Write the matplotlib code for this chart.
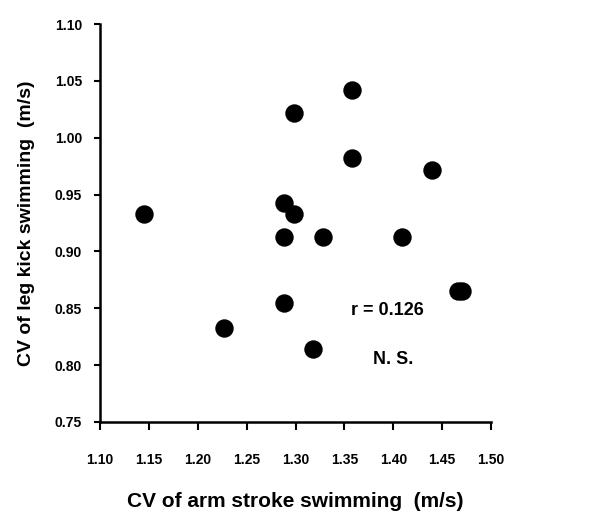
import matplotlib.pyplot as plt

plt.rcParams['font.family'] = ['Liberation Sans', 'DejaVu Sans']

# CV values per swimmer (m/s)
arm_cv = [1.145, 1.227, 1.288, 1.298, 1.288, 1.328, 1.409, 1.288, 1.318,
          1.298, 1.358, 1.358, 1.440, 1.466, 1.470]
leg_cv = [0.933, 0.833, 0.943, 0.933, 0.913, 0.913, 0.913, 0.855, 0.814,
          1.022, 1.042, 0.982, 0.972, 0.865, 0.865]

xticks = [1.10, 1.15, 1.20, 1.25, 1.30, 1.35, 1.40, 1.45, 1.50]
yticks = [0.75, 0.80, 0.85, 0.90, 0.95, 1.00, 1.05, 1.10]

fig = plt.figure(figsize=(6.11, 5.22), dpi=100)
ax = fig.add_axes([0.1637, 0.1916, 0.64, 0.7624])

ax.scatter(arm_cv, leg_cv, s=150, color='black', zorder=3)

ax.set_xlim(1.10, 1.50)
ax.set_ylim(0.75, 1.10)
ax.set_xticks(xticks)
ax.set_yticks(yticks)
ax.set_xticklabels([f'{v:.2f}' for v in xticks], fontsize=10, fontweight='bold')
ax.set_yticklabels([f'{v:.2f}' for v in yticks], fontsize=10, fontweight='bold')
ax.tick_params(axis='x', direction='out', length=6, width=1.5, pad=16)
ax.tick_params(axis='y', direction='out', length=4, width=1.5, pad=9)

for side in ['top', 'right']:
    ax.spines[side].set_visible(False)
for side in ['left', 'bottom']:
    ax.spines[side].set_linewidth(1.8)

ax.set_xlabel('CV of arm stroke swimming  (m/s)', fontsize=15,
              fontweight='bold', labelpad=18)
ax.set_ylabel('CV of leg kick swimming  (m/s)', fontsize=14,
              fontweight='bold', labelpad=14)

ax.text(1.394, 0.848, 'r = 0.126', fontsize=13, fontweight='bold',
        ha='center', va='center')
ax.text(1.40, 0.805, 'N. S.', fontsize=13, fontweight='bold',
        ha='center', va='center')

fig.savefig('out.png', dpi=100)
